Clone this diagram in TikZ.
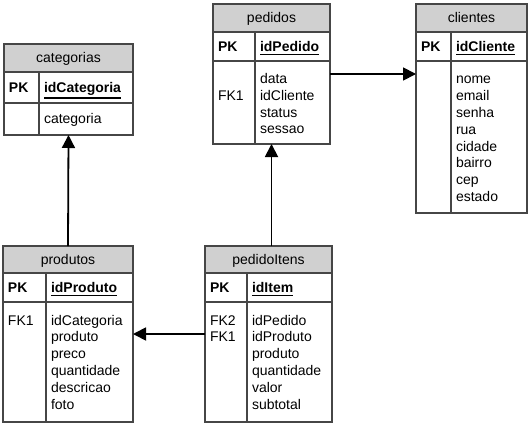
\documentclass[tikz,border=0pt]{standalone}
\usepackage{fontspec}
\setmainfont{Liberation Sans}
\usetikzlibrary{arrows.meta}
\definecolor{hdrcol}{RGB}{208,208,208}
\definecolor{bordercol}{RGB}{70,70,70}
\newcommand{\pkey}[1]{\setbox0=\hbox{\bfseries #1}\dimen0=\dp0\advance\dimen0 by 2pt\rlap{\vrule width\wd0 height -\dimen0 depth \dimexpr\dimen0+1.3pt\relax}\box0}
\tikzset{
  tblbox/.style={draw=bordercol, line width=1.1pt, inner sep=0pt, outer sep=0pt, rectangle},
  hdr/.style={fill=hdrcol, draw=bordercol, line width=1.1pt},
  grid/.style={draw=bordercol, line width=1.1pt},
  txt/.style={inner sep=0pt, outer sep=0pt, anchor=base west, font=\fontsize{14}{16.8}\selectfont},
  ttl/.style={inner sep=0pt, outer sep=0pt, anchor=base, font=\fontsize{14}{16.8}\selectfont},
  body/.style={txt, text width=75pt, align=left},
  conn/.style={draw=black, line width=1.8pt, -{Triangle[length=13pt,width=13pt]}}
}
\begin{document}
\begin{tikzpicture}[x=1pt,y=-1pt]
\useasboundingbox (0,0) rectangle (529,425);

% categorias
\path[hdr] (4,44) rectangle (133,72);
\draw[grid] (4,103) -- (133,103) (39,72) -- (39,135);
\node[tblbox, minimum width=129pt, minimum height=91pt] (categorias) at (68.5,89.5) {};
\node[ttl] (catT) at (68.5,63) {categorias};
\node[txt] (catPK) at (9,92.5) {\bfseries PK};
\node[txt] (catK) at (44,92.5) {\pkey{idCategoria}};
\node[body] (catB) at (44,123.5) {categoria};

% pedidos
\path[hdr] (213,4) rectangle (330,32);
\draw[grid] (213,61) -- (330,61) (255,32) -- (255,144);
\node[tblbox, minimum width=117pt, minimum height=140pt] (pedidos) at (271.5,74) {};
\node[ttl] (pedT) at (271.5,23) {pedidos};
\node[txt] (pedPK) at (218,51.5) {\bfseries PK};
\node[txt] (pedK) at (260,51.5) {\pkey{idPedido}};
\node[body] (pedF) at (218,83.5) {\\FK1};
\node[body] (pedB) at (260,83.5) {data\\idCliente\\status\\sessao};

% clientes
\path[hdr] (416,4) rectangle (527,32);
\draw[grid] (416,61) -- (527,61) (451,32) -- (451,213);
\node[tblbox, minimum width=111pt, minimum height=209pt] (clientes) at (471.5,108.5) {};
\node[ttl] (cliT) at (471.5,23) {clientes};
\node[txt] (cliPK) at (421,51.5) {\bfseries PK};
\node[txt] (cliK) at (456,51.5) {\pkey{idCliente}};
\node[body] (cliB) at (456,84) {nome\\email\\senha\\rua\\cidade\\bairro\\cep\\estado};

% produtos
\path[hdr] (3,246) rectangle (133,273);
\draw[grid] (3,302) -- (133,302) (46,273) -- (46,422);
\node[tblbox, minimum width=130pt, minimum height=176pt] (produtos) at (68,334) {};
\node[ttl] (proT) at (68,264.5) {produtos};
\node[txt] (proPK) at (8,292.5) {\bfseries PK};
\node[txt] (proK) at (51,292.5) {\pkey{idProduto}};
\node[body] (proF) at (8,325) {FK1};
\node[body] (proB) at (51,325) {idCategoria\\produto\\preco\\quantidade\\descricao\\foto};

% pedidoItens
\path[hdr] (205,246) rectangle (332,273);
\draw[grid] (205,302) -- (332,302) (247,273) -- (247,422);
\node[tblbox, minimum width=127pt, minimum height=176pt] (pedidoItens) at (268.5,334) {};
\node[ttl] (itT) at (268.5,264.5) {pedidoItens};
\node[txt] (itPK) at (210,292.5) {\bfseries PK};
\node[txt] (itK) at (252,292.5) {\pkey{idItem}};
\node[body] (itF) at (210,325) {FK2\\FK1};
\node[body] (itB) at (252,325) {idPedido\\idProduto\\produto\\quantidade\\valor\\subtotal};

% connectors
\draw[conn] (produtos.north) -- (categorias.south);
\draw[conn] (pedidos.south |- pedidoItens.north) -- (pedidos.south);
\draw[conn] (pedidoItens.west) -- (pedidoItens.west -| produtos.east);
\draw[conn] (pedidos.east) -- (pedidos.east -| clientes.west);
\end{tikzpicture}
\end{document}
